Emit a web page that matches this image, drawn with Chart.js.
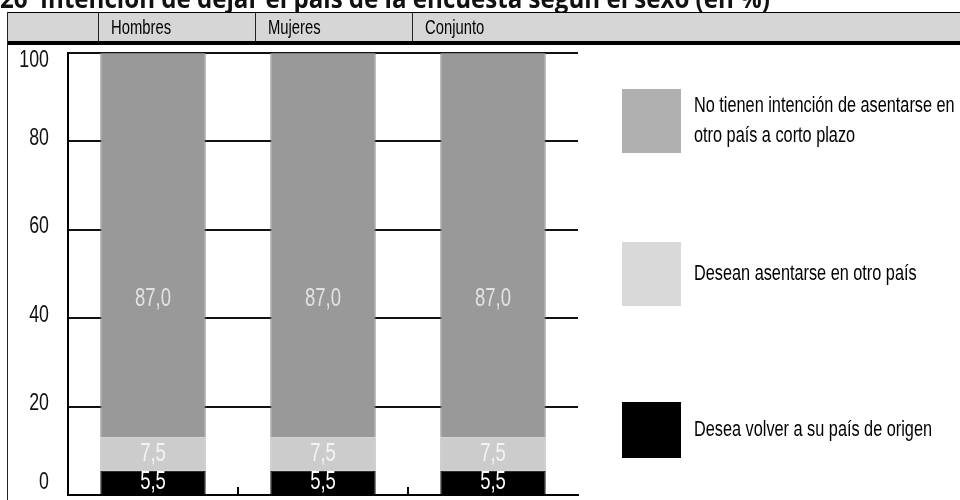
<!DOCTYPE html>
<html lang="es">
<head>
<meta charset="utf-8">
<title>Intención de dejar el país</title>
<script src="https://cdn.jsdelivr.net/npm/chart.js@4/dist/chart.umd.min.js"></script>
<style>
  html, body { margin: 0; padding: 0; background: #fff; }
  #wrap { width: 960px; height: 500px; overflow: hidden; }
</style>
</head>
<body>
<div id="wrap"><canvas id="intencionChart" width="960" height="500"></canvas></div>
<script>
// Datos (en %)
const chartTitle = '26  Intención de dejar el país de la encuesta según el sexo (en %)';
const categories = ['Hombres', 'Mujeres', 'Conjunto'];
const volverOrigen = [5.5, 5.5, 5.5];
const otroPais = [7.5, 7.5, 7.5];
const sinIntencion = [87.0, 87.0, 87.0];
const yTicks = [0, 20, 40, 60, 80, 100];

const FAMILY = '"Liberation Sans", Arial, sans-serif';
const SX = 0.74; // estrechamiento horizontal del texto

function fmt(v) {
    return v.toFixed(1).replace('.', ',');
}

// texto estrecho: escala horizontal con alineación propia
function narrowText(ctx, text, x, y, align) {
    const w = ctx.measureText(text).width * SX;
    const left = align === 'center' ? x - w / 2 : align === 'right' ? x - w : x;
    ctx.save();
    ctx.textAlign = 'left';
    ctx.translate(left, y);
    ctx.scale(SX, 1);
    ctx.fillText(text, 0, 0);
    ctx.restore();
}

// Cabecera: título, banda gris con los nombres de columna
const headerBand = {
    id: 'headerBand',
    beforeDraw(chart) {
        const ctx = chart.ctx;
        ctx.save();
        ctx.fillStyle = '#fff';
        ctx.fillRect(0, 0, chart.width, chart.height);

        ctx.fillStyle = '#111';
        ctx.font = 'bold 26px "Open Sans", sans-serif';
        ctx.textBaseline = 'alphabetic';
        const w = ctx.measureText(chartTitle).width;
        ctx.save();
        ctx.translate(0, 8);
        ctx.scale(770 / w, 1);
        ctx.fillText(chartTitle, 0, 0);
        ctx.restore();

        ctx.fillStyle = '#d6d6d6';
        ctx.fillRect(7, 13, chart.width - 7, 28);
        ctx.fillStyle = '#000';
        ctx.fillRect(7, 12, chart.width - 7, 1);
        ctx.fillRect(7, 41, chart.width - 7, 4);

        ctx.strokeStyle = '#222';
        ctx.lineWidth = 1;
        ctx.beginPath();
        ctx.moveTo(7.5, 12);
        ctx.lineTo(7.5, chart.height);
        const cols = [98, 255, 412];
        cols.forEach(x => {
            ctx.moveTo(x + 0.5, 13);
            ctx.lineTo(x + 0.5, 41);
        });
        ctx.stroke();

        ctx.fillStyle = '#000';
        ctx.font = '20px ' + FAMILY;
        ctx.textBaseline = 'middle';
        categories.forEach((c, i) => narrowText(ctx, c, cols[i] + 13, 28, 'left'));
        ctx.restore();
    }
};

// Etiquetas del eje Y y marcas entre categorías
const axisExtras = {
    id: 'axisExtras',
    afterDraw(chart) {
        const ctx = chart.ctx;
        const y = chart.scales.y;
        const x = chart.scales.x;
        const area = chart.chartArea;
        ctx.save();
        ctx.fillStyle = '#111';
        ctx.font = '24px ' + FAMILY;
        ctx.textBaseline = 'middle';
        yTicks.forEach(v => {
            let py = y.getPixelForValue(v) - 3;
            py = Math.min(Math.max(py, area.top + 7), area.bottom - 13);
            narrowText(ctx, String(v), 49, py, 'right');
        });

        ctx.strokeStyle = '#000';
        ctx.lineWidth = 2;
        ctx.beginPath();
        for (let i = 0; i < categories.length - 1; i++) {
            const px = Math.round((x.getPixelForValue(i) + x.getPixelForValue(i + 1)) / 2);
            ctx.moveTo(px, area.bottom);
            ctx.lineTo(px, area.bottom - 8);
        }
        ctx.stroke();
        ctx.restore();
    }
};

// Valores dentro de cada tramo
const barValues = {
    id: 'barValues',
    afterDatasetsDraw(chart) {
        const ctx = chart.ctx;
        ctx.save();
        ctx.font = '25px ' + FAMILY;
        ctx.textBaseline = 'middle';
        chart.data.datasets.forEach((ds, di) => {
            const meta = chart.getDatasetMeta(di);
            meta.data.forEach((bar, i) => {
                const py = bar.base - (bar.base - bar.y) * ds.labelPos;
                ctx.fillStyle = ds.labelColor;
                narrowText(ctx, fmt(ds.data[i]), bar.x, py, 'center');
            });
        });
        ctx.restore();
    }
};

function wrap(ctx, text, maxW) {
    const words = text.split(' ');
    const lines = [];
    let line = '';
    words.forEach(w => {
        const test = line ? line + ' ' + w : w;
        if (ctx.measureText(test).width * SX > maxW && line) {
            lines.push(line);
            line = w;
        } else {
            line = test;
        }
    });
    lines.push(line);
    return lines;
}

// Leyenda a la derecha, de arriba abajo
const sideLegend = {
    id: 'sideLegend',
    afterDraw(chart) {
        const ctx = chart.ctx;
        const boxes = [{ y: 89, h: 64 }, { y: 242, h: 64 }, { y: 402, h: 56 }];
        const items = chart.data.datasets.slice().reverse();
        ctx.save();
        ctx.font = '22px ' + FAMILY;
        ctx.textBaseline = 'middle';
        items.forEach((ds, i) => {
            const b = boxes[i];
            ctx.fillStyle = ds.legendColor;
            ctx.fillRect(622, b.y, 59, b.h);
            const lines = wrap(ctx, ds.label, 266);
            const mid = b.y + b.h / 2;
            const lh = 30;
            ctx.fillStyle = '#000';
            lines.forEach((l, k) => {
                narrowText(ctx, l, 694, mid + (k - (lines.length - 1) / 2) * lh, 'left');
            });
        });
        ctx.restore();
    }
};

const ctx = document.getElementById('intencionChart').getContext('2d');

const intencionChart = new Chart(ctx, {
    type: 'bar',
    data: {
        labels: categories,
        datasets: [{
            label: 'Desea volver a su país de origen',
            data: volverOrigen,
            backgroundColor: '#000',
            borderColor: '#000',
            borderWidth: 1,
            legendColor: '#000',
            labelColor: '#fff',
            labelPos: 0.5
        }, {
            label: 'Desean asentarse en otro país',
            data: otroPais,
            backgroundColor: '#cccccc',
            borderColor: '#9c9c9c',
            borderWidth: 1,
            legendColor: '#d9d9d9',
            labelColor: '#f4f4f4',
            labelPos: 0.5
        }, {
            label: 'No tienen intención de asentarse en otro país a corto plazo',
            data: sinIntencion,
            backgroundColor: '#999999',
            borderColor: '#7a7a7a',
            borderWidth: 1,
            legendColor: '#b0b0b0',
            labelColor: '#e2e2e2',
            labelPos: 0.36
        }]
    },
    options: {
        responsive: false,
        animation: false,
        devicePixelRatio: 1,
        layout: {
            padding: { top: 53, bottom: 5, left: 0, right: 382 }
        },
        datasets: {
            bar: {
                categoryPercentage: 1,
                barPercentage: 0.62,
                borderSkipped: 'start'
            }
        },
        plugins: {
            legend: { display: false },
            tooltip: { enabled: false }
        },
        scales: {
            x: {
                stacked: true,
                ticks: { display: false },
                grid: { display: false },
                border: { display: true, color: '#000', width: 2 },
                afterFit(scale) { scale.height = 0; }
            },
            y: {
                stacked: true,
                min: 0,
                max: 100,
                ticks: { display: false, stepSize: 20 },
                grid: { color: '#111', lineWidth: 2, drawTicks: false },
                border: { display: true, color: '#000', width: 2 },
                afterFit(scale) { scale.width = 68; }
            }
        }
    },
    plugins: [headerBand, barValues, axisExtras, sideLegend]
});
</script>
</body>
</html>
